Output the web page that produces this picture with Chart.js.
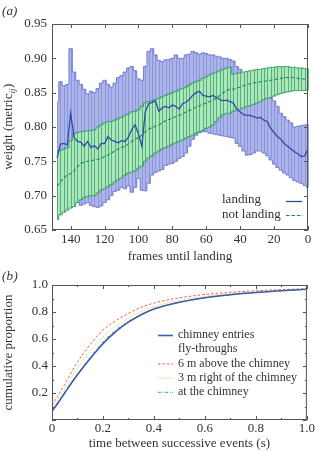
<!DOCTYPE html>
<html>
<head>
<meta charset="utf-8">
<script src="https://cdn.jsdelivr.net/npm/chart.js@4.4.0/dist/chart.umd.min.js"></script>
<style>
    html, body { margin: 0; padding: 0; background: #fff; }
    #wrapA { position: absolute; left: 0; top: 0; }
    #wrapB { position: absolute; left: 0; top: 262px; }
</style>
</head>
<body>
<div id="wrapA"><canvas id="chartA" width="316" height="264"></canvas></div>
<div id="wrapB"><canvas id="chartB" width="316" height="189"></canvas></div>
<script>
// ---- panel (a): weight vs frames until landing ----
const frames = [148, 146, 144, 142, 140, 138, 136, 134, 132, 130,
    128, 126, 124, 122, 120, 118, 116, 114, 112, 110,
    108, 106, 104, 102, 100, 98, 96, 94, 92, 90,
    88, 86, 84, 82, 80, 78, 76, 74, 72, 70,
    68, 66, 64, 62, 60, 58, 56, 54, 52, 50,
    48, 46, 44, 42, 40, 38, 36, 34, 32, 30,
    28, 26, 24, 22, 20, 18, 16, 14, 12, 10,
    8, 6, 4, 2, 0];

const landingMean = [0.755, 0.775, 0.776, 0.774, 0.820, 0.785, 0.779, 0.778, 0.772, 0.779,
    0.770, 0.773, 0.768, 0.776, 0.776, 0.786, 0.781, 0.779, 0.777, 0.780,
    0.779, 0.785, 0.796, 0.803, 0.790, 0.772, 0.822, 0.834, 0.836, 0.838,
    0.823, 0.828, 0.830, 0.828, 0.832, 0.830, 0.826, 0.834, 0.836, 0.840,
    0.846, 0.850, 0.852, 0.846, 0.845, 0.844, 0.846, 0.843, 0.840, 0.838,
    0.839, 0.837, 0.835, 0.826, 0.822, 0.818, 0.817, 0.817, 0.815, 0.813,
    0.814, 0.810, 0.808, 0.798, 0.792, 0.786, 0.782, 0.776, 0.772, 0.768,
    0.764, 0.761, 0.757, 0.758, 0.768];

const landingUpper = [0.836, 0.866, 0.860, 0.862, 0.914, 0.880, 0.868, 0.862, 0.855, 0.848,
    0.852, 0.850, 0.856, 0.864, 0.868, 0.862, 0.858, 0.864, 0.872, 0.875,
    0.880, 0.886, 0.888, 0.882, 0.870, 0.868, 0.888, 0.910, 0.914, 0.905,
    0.897, 0.895, 0.898, 0.898, 0.900, 0.905, 0.900, 0.900, 0.905, 0.906,
    0.910, 0.908, 0.906, 0.908, 0.907, 0.905, 0.905, 0.903, 0.902, 0.900,
    0.900, 0.898, 0.896, 0.888, 0.884, 0.879, 0.875, 0.870, 0.866, 0.862,
    0.858, 0.853, 0.849, 0.842, 0.838, 0.830, 0.820, 0.815, 0.810, 0.806,
    0.800, 0.801, 0.802, 0.803, 0.804];

const landingLower = [0.676, 0.684, 0.690, 0.685, 0.690, 0.697, 0.690, 0.686, 0.688, 0.690,
    0.686, 0.684, 0.683, 0.685, 0.690, 0.694, 0.700, 0.706, 0.708, 0.712,
    0.710, 0.714, 0.705, 0.712, 0.725, 0.708, 0.707, 0.718, 0.730, 0.734,
    0.736, 0.738, 0.744, 0.746, 0.747, 0.750, 0.754, 0.757, 0.762, 0.772,
    0.782, 0.788, 0.792, 0.793, 0.793, 0.791, 0.790, 0.789, 0.788, 0.787,
    0.786, 0.785, 0.784, 0.776, 0.772, 0.765, 0.759, 0.760, 0.762, 0.765,
    0.765, 0.762, 0.758, 0.752, 0.746, 0.741, 0.737, 0.733, 0.730, 0.726,
    0.722, 0.720, 0.718, 0.715, 0.712];

const notLandingMean = [0.714, 0.720, 0.726, 0.730, 0.732, 0.736, 0.742, 0.747, 0.749, 0.750,
    0.751, 0.752, 0.753, 0.754, 0.757, 0.759, 0.762, 0.765, 0.768, 0.770,
    0.772, 0.775, 0.779, 0.782, 0.785, 0.788, 0.793, 0.797, 0.799, 0.801,
    0.803, 0.806, 0.809, 0.811, 0.813, 0.815, 0.817, 0.819, 0.822, 0.824,
    0.826, 0.829, 0.831, 0.833, 0.835, 0.837, 0.839, 0.842, 0.846, 0.850,
    0.853, 0.855, 0.855, 0.857, 0.858, 0.860, 0.862, 0.863, 0.864, 0.865,
    0.866, 0.867, 0.867, 0.868, 0.869, 0.870, 0.871, 0.872, 0.872, 0.872,
    0.872, 0.871, 0.870, 0.870, 0.870];

const notLandingUpper = [0.764, 0.766, 0.768, 0.770, 0.780, 0.790, 0.792, 0.793, 0.794, 0.794,
    0.795, 0.796, 0.800, 0.803, 0.806, 0.808, 0.808, 0.810, 0.812, 0.814,
    0.817, 0.819, 0.822, 0.823, 0.825, 0.830, 0.835, 0.837, 0.838, 0.840,
    0.842, 0.844, 0.846, 0.848, 0.850, 0.852, 0.854, 0.856, 0.858, 0.861,
    0.864, 0.866, 0.868, 0.871, 0.873, 0.876, 0.878, 0.880, 0.882, 0.884,
    0.886, 0.887, 0.877, 0.878, 0.879, 0.880, 0.881, 0.882, 0.883, 0.884,
    0.884, 0.885, 0.886, 0.887, 0.887, 0.888, 0.888, 0.888, 0.888, 0.887,
    0.887, 0.886, 0.886, 0.885, 0.885];

const notLandingLower = [0.665, 0.672, 0.676, 0.679, 0.682, 0.684, 0.690, 0.694, 0.697, 0.699,
    0.700, 0.700, 0.704, 0.708, 0.710, 0.713, 0.716, 0.720, 0.723, 0.726,
    0.730, 0.733, 0.734, 0.736, 0.740, 0.743, 0.750, 0.755, 0.758, 0.762,
    0.765, 0.768, 0.770, 0.772, 0.775, 0.777, 0.779, 0.781, 0.784, 0.786,
    0.788, 0.791, 0.793, 0.795, 0.798, 0.800, 0.803, 0.808, 0.814, 0.818,
    0.820, 0.820, 0.823, 0.825, 0.826, 0.828, 0.830, 0.831, 0.833, 0.835,
    0.837, 0.840, 0.842, 0.843, 0.845, 0.847, 0.849, 0.850, 0.851, 0.852,
    0.853, 0.853, 0.853, 0.853, 0.854];

// ---- panel (b): cumulative proportion vs time between events ----
const times = [0, 0.025, 0.05, 0.075, 0.1, 0.15, 0.2, 0.25, 0.3, 0.35, 0.4, 0.45, 0.5, 0.6, 0.7, 0.8, 0.9, 1.0];
const chimneyEntries = [0.065, 0.13, 0.2, 0.27, 0.335, 0.455, 0.565, 0.655, 0.725, 0.78, 0.822, 0.85, 0.872, 0.905, 0.928, 0.944, 0.957, 0.968];
const above6m = [0.11, 0.185, 0.265, 0.35, 0.43, 0.56, 0.665, 0.735, 0.79, 0.835, 0.866, 0.888, 0.905, 0.93, 0.946, 0.957, 0.966, 0.972];
const right3m = [0.09, 0.155, 0.23, 0.31, 0.385, 0.51, 0.615, 0.695, 0.755, 0.803, 0.84, 0.866, 0.886, 0.915, 0.936, 0.95, 0.96, 0.967];
const atChimney = [0.07, 0.135, 0.205, 0.275, 0.342, 0.465, 0.578, 0.665, 0.73, 0.782, 0.823, 0.851, 0.873, 0.906, 0.929, 0.945, 0.958, 0.968];

const SERIF = '"Liberation Serif", "Times New Roman", serif';
const TEXT = '#333';
Chart.defaults.font.family = SERIF;
Chart.defaults.font.size = 13;
Chart.defaults.color = TEXT;

const pts = (xs, ys) => xs.map((x, i) => ({ x: x, y: ys[i] }));

// vertical error-bar lines, drawn right after the band fill of the lower dataset
const errorStripes = {
    id: 'errorStripes',
    afterDatasetDraw(chart, args) {
        const ds = chart.data.datasets[args.index];
        if (!ds.stripeColor) return;
        const upper = chart.data.datasets[ds.fill.target].data;
        const { ctx } = chart;
        const xs = chart.scales.x, ys = chart.scales.y;
        ctx.save();
        ctx.strokeStyle = ds.stripeColor;
        ctx.lineWidth = 1;
        ctx.beginPath();
        ds.data.forEach((p, i) => {
            const px = Math.round(xs.getPixelForValue(p.x)) + 0.5;
            ctx.moveTo(px, ys.getPixelForValue(p.y));
            ctx.lineTo(px, ys.getPixelForValue(upper[i].y));
        });
        ctx.stroke();
        ctx.restore();
    }
};

// box round the plot with inward ticks on all four sides
function boxTicks(xMinor, yMinor) {
    return {
        id: 'boxTicks',
        afterDatasetsDraw(chart) {
            const { ctx, chartArea: a } = chart;
            const xs = chart.scales.x, ys = chart.scales.y;
            ctx.save();
            ctx.strokeStyle = '#555';
            ctx.lineWidth = 1;
            ctx.strokeRect(a.left + 0.5, a.top + 0.5, a.right - a.left - 1, a.bottom - a.top - 1);
            ctx.beginPath();
            const xTick = (v, len) => {
                const px = Math.round(xs.getPixelForValue(v)) + 0.5;
                ctx.moveTo(px, a.bottom); ctx.lineTo(px, a.bottom - len);
                ctx.moveTo(px, a.top); ctx.lineTo(px, a.top + len);
            };
            const yTick = (v, len) => {
                const py = Math.round(ys.getPixelForValue(v)) + 0.5;
                ctx.moveTo(a.left, py); ctx.lineTo(a.left + len, py);
                ctx.moveTo(a.right, py); ctx.lineTo(a.right - len, py);
            };
            xs.ticks.forEach(t => xTick(t.value, 4));
            ys.ticks.forEach(t => yTick(t.value, 4));
            xMinor.forEach(v => xTick(v, 2));
            yMinor.forEach(v => yTick(v, 2));
            ctx.stroke();
            ctx.restore();
        }
    };
}

const panelA = {
    id: 'panelA',
    afterDraw(chart) {
        const { ctx, chartArea: a } = chart;
        ctx.save();
        ctx.fillStyle = TEXT;
        ctx.textBaseline = 'middle';
        ctx.font = 'italic 13px ' + SERIF;
        ctx.fillText('(', 2, 12);
        ctx.fillText('a', 6.5, 12);
        ctx.fillText(')', 13, 12);

        // y title with subscript
        ctx.translate(9, (a.top + a.bottom) / 2);
        ctx.rotate(-Math.PI / 2);
        const main = 'weight (metric';
        ctx.font = '13px ' + SERIF;
        const w1 = ctx.measureText(main).width;
        ctx.font = 'italic 9px ' + SERIF;
        const w2 = ctx.measureText('ij').width;
        ctx.font = '13px ' + SERIF;
        const w3 = ctx.measureText(')').width;
        let x0 = -(w1 + w2 + w3) / 2;
        ctx.fillText(main, x0, 0);
        ctx.font = 'italic 9px ' + SERIF;
        ctx.fillText('ij', x0 + w1, 3.5);
        ctx.font = '13px ' + SERIF;
        ctx.fillText(')', x0 + w1 + w2 + 0.5, 0);
        ctx.restore();

        // legend
        ctx.save();
        ctx.font = '13px ' + SERIF;
        ctx.fillStyle = TEXT;
        ctx.textBaseline = 'middle';
        ctx.fillText('landing', 222, 200);
        ctx.fillText('not landing', 222, 215);
        ctx.lineWidth = 1.3;
        ctx.strokeStyle = '#3048a8';
        ctx.beginPath(); ctx.moveTo(286, 201.5); ctx.lineTo(302, 201.5); ctx.stroke();
        ctx.lineWidth = 1.1;
        ctx.strokeStyle = '#1a8a4c';
        ctx.setLineDash([3.5, 2]);
        ctx.beginPath(); ctx.moveTo(286, 215.5); ctx.lineTo(303, 215.5); ctx.stroke();
        ctx.restore();
    }
};

new Chart(document.getElementById('chartA'), {
    type: 'line',
    data: {
        datasets: [
            { data: pts(frames, notLandingMean), borderColor: '#1a8a4c', borderWidth: 1.1, borderDash: [3.5, 2], pointRadius: 0, fill: false, order: 0 },
            { data: pts(frames, landingMean), borderColor: '#3048a8', borderWidth: 1.3, pointRadius: 0, fill: false, order: 1 },
            { data: pts(frames, notLandingUpper), borderColor: '#2f9a5a', borderWidth: 0.9, stepped: 'middle', pointRadius: 0, fill: false, order: 2 },
            { data: pts(frames, notLandingLower), borderColor: '#2f9a5a', borderWidth: 0.9, stepped: 'middle', pointRadius: 0,
              fill: { target: 2 }, backgroundColor: '#abe6bc', stripeColor: 'rgba(62,165,102,0.8)', order: 3 },
            { data: pts(frames, landingUpper), borderColor: '#6673cf', borderWidth: 0.9, stepped: 'middle', pointRadius: 0, fill: false, order: 4 },
            { data: pts(frames, landingLower), borderColor: '#6673cf', borderWidth: 0.9, stepped: 'middle', pointRadius: 0,
              fill: { target: 4 }, backgroundColor: '#adb4e7', stripeColor: 'rgba(128,138,216,0.75)', order: 5 }
        ]
    },
    options: {
        responsive: false,
        animation: false,
        layout: { padding: { top: 24, right: 8, left: 0, bottom: 0 } },
        plugins: { legend: { display: false }, tooltip: { enabled: false } },
        scales: {
            x: {
                type: 'linear', reverse: true, min: 0, max: 151,
                grid: { display: false, drawTicks: false }, border: { display: false },
                ticks: { stepSize: 20, includeBounds: false, padding: 2, maxRotation: 0 },
                title: { display: true, text: 'frames until landing', padding: 0 },
                afterFit: s => { s.height = 34; }
            },
            y: {
                min: 0.65, max: 0.95,
                grid: { display: false, drawTicks: false }, border: { display: false },
                ticks: { stepSize: 0.05, padding: 5, callback: v => v.toFixed(2) },
                afterFit: s => { s.width = 52; }
            }
        }
    },
    plugins: [errorStripes, boxTicks([], []), panelA]
});

const panelB = {
    id: 'panelB',
    afterDraw(chart) {
        const { ctx } = chart;
        ctx.save();
        ctx.fillStyle = TEXT;
        ctx.textBaseline = 'middle';
        ctx.font = 'italic 13px ' + SERIF;
        ctx.fillText('(', 2, 15);
        ctx.fillText('b', 6.5, 15);
        ctx.fillText(')', 13.5, 15);

        const rows = [
            { label: 'chimney entries', color: '#3c5ea8', width: 1.6, dash: [] },
            { label: 'fly-throughs', color: null },
            { label: '6 m above the chimney', color: '#e8603c', width: 1, dash: [2.5, 2] },
            { label: '3 m right of the chimney', color: '#f3bd5a', width: 1, dash: [1, 1.2] },
            { label: 'at the chimney', color: '#3a9a8a', width: 1, dash: [3, 1.5, 1, 1.5] }
        ];
        ctx.font = '12px ' + SERIF;
        rows.forEach((r, i) => {
            const y = 73 + i * 14.2;
            ctx.fillStyle = TEXT;
            ctx.fillText(r.label, 178, y);
            if (r.color) {
                ctx.strokeStyle = r.color;
                ctx.lineWidth = r.width;
                ctx.setLineDash(r.dash);
                ctx.beginPath(); ctx.moveTo(158, y + 0.5); ctx.lineTo(173, y + 0.5); ctx.stroke();
            }
        });
        ctx.restore();
    }
};

new Chart(document.getElementById('chartB'), {
    type: 'line',
    data: {
        datasets: [
            { data: pts(times, chimneyEntries), borderColor: '#3c5ea8', borderWidth: 1.6, pointRadius: 0, cubicInterpolationMode: 'monotone', order: 0 },
            { data: pts(times, atChimney), borderColor: '#3a9a8a', borderWidth: 1, borderDash: [3, 1.5, 1, 1.5], pointRadius: 0, cubicInterpolationMode: 'monotone', order: 1 },
            { data: pts(times, right3m), borderColor: '#f3bd5a', borderWidth: 1, borderDash: [1, 1.2], pointRadius: 0, cubicInterpolationMode: 'monotone', order: 2 },
            { data: pts(times, above6m), borderColor: '#e8603c', borderWidth: 1, borderDash: [2.5, 2], pointRadius: 0, cubicInterpolationMode: 'monotone', order: 3 }
        ]
    },
    options: {
        responsive: false,
        animation: false,
        layout: { padding: { top: 23, right: 7, left: 0, bottom: 0 } },
        plugins: { legend: { display: false }, tooltip: { enabled: false } },
        scales: {
            x: {
                type: 'linear', min: 0, max: 1,
                grid: { display: false, drawTicks: false }, border: { display: false },
                ticks: { stepSize: 0.2, padding: 1, maxRotation: 0, callback: v => v === 0 ? '0' : v.toFixed(1) },
                title: { display: true, text: 'time between successive events (s)', padding: 0 },
                afterFit: s => { s.height = 31; }
            },
            y: {
                min: 0, max: 1,
                grid: { display: false, drawTicks: false }, border: { display: false },
                ticks: { stepSize: 0.2, padding: 4, callback: v => v === 0 ? '' : v.toFixed(1) },
                title: { display: true, text: 'cumulative proportion', padding: { top: 1, bottom: 0 } },
                afterFit: s => { s.width = 52; }
            }
        }
    },
    plugins: [boxTicks([0.1, 0.3, 0.5, 0.7, 0.9], [0.1, 0.3, 0.5, 0.7, 0.9]), panelB]
});
</script>
</body>
</html>
